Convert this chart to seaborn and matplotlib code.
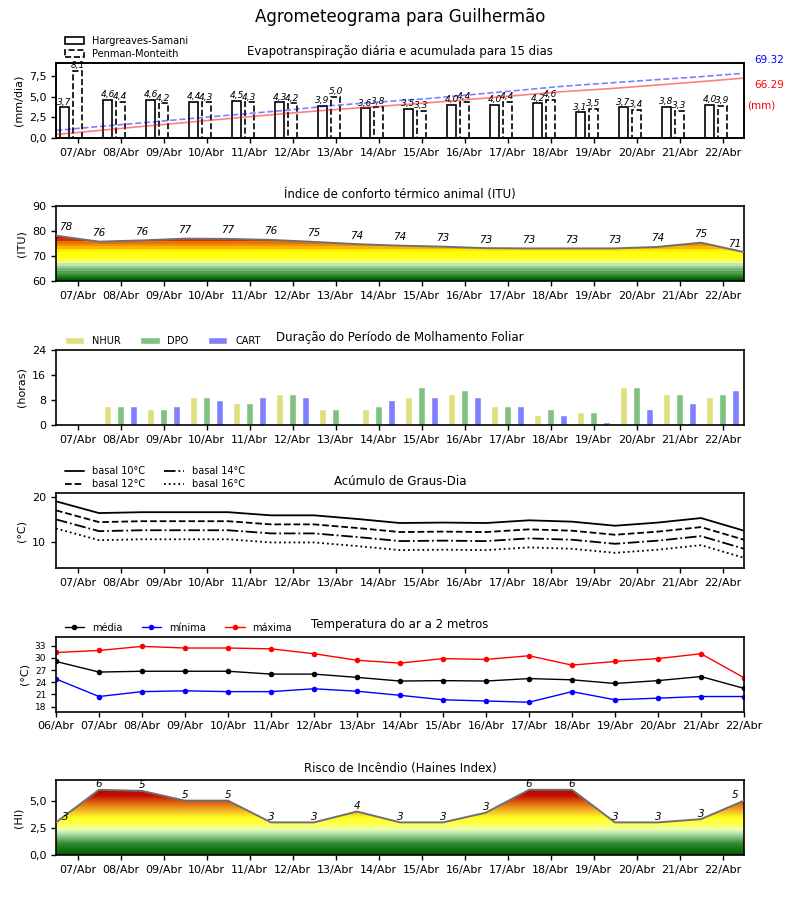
import numpy as np
import matplotlib
matplotlib.use("Agg")
import matplotlib.pyplot as plt
import seaborn as sns
from matplotlib.colors import LinearSegmentedColormap
from matplotlib.ticker import FuncFormatter

sns.set_style("ticks")
plt.rcParams["font.family"] = ["DejaVu Sans"]
plt.rcParams.update({
    "axes.edgecolor": "black", "axes.linewidth": 1.2,
    "xtick.color": "black", "ytick.color": "black",
    "xtick.labelsize": 8, "ytick.labelsize": 8, "axes.labelsize": 8,
    "xtick.major.size": 3.5, "ytick.major.size": 3.5,
    "xtick.major.width": 1.0, "ytick.major.width": 1.0,
    "text.color": "black", "axes.labelcolor": "black",
})

# ---------------- data ----------------
days = ["06/Abr", "07/Abr", "08/Abr", "09/Abr", "10/Abr", "11/Abr", "12/Abr", "13/Abr",
        "14/Abr", "15/Abr", "16/Abr", "17/Abr", "18/Abr", "19/Abr", "20/Abr", "21/Abr", "22/Abr"]

et_hs = [3.7, 4.6, 4.6, 4.4, 4.5, 4.3, 3.9, 3.6, 3.5, 4.0, 4.0, 4.2, 3.1, 3.7, 3.8, 4.0]
et_pm = [8.1, 4.4, 4.2, 4.3, 4.3, 4.2, 5.0, 3.8, 3.3, 4.4, 4.4, 4.6, 3.5, 3.4, 3.3, 3.9]
et_pm_total = "69.32"
et_hs_total = "66.29"

itu = [78.3, 75.9, 76.4, 77.1, 77.0, 76.6, 75.8, 74.9, 74.3, 73.9, 73.3, 73.2, 73.2, 73.2, 73.8, 75.5, 71.7]
itu_labels = ["78", "76", "76", "77", "77", "76", "75", "74", "74", "73", "73", "73", "73", "73", "74", "75", "71"]

nhur = [0, 6, 5, 9, 7, 10, 5, 5, 9, 10, 6, 3, 4, 12, 10, 9]
dpo = [0, 6, 5, 9, 7, 10, 5, 6, 12, 11, 6, 5, 4, 12, 10, 10]
cart = [0, 6, 6, 8, 9, 9, 0, 8, 9, 9, 6, 3, 1, 5, 7, 11]

gd10 = [19.1, 16.5, 16.7, 16.7, 16.7, 16.0, 16.0, 15.2, 14.3, 14.4, 14.3, 14.9, 14.6, 13.7, 14.4, 15.4, 12.6]
gd12 = [17.1, 14.5, 14.7, 14.7, 14.7, 14.0, 14.0, 13.2, 12.3, 12.4, 12.3, 12.9, 12.6, 11.7, 12.4, 13.4, 10.6]
gd14 = [15.1, 12.5, 12.7, 12.7, 12.7, 12.0, 12.0, 11.2, 10.3, 10.4, 10.3, 10.9, 10.6, 9.7, 10.4, 11.4, 8.6]
gd16 = [13.1, 10.5, 10.7, 10.7, 10.7, 10.0, 10.0, 9.2, 8.3, 8.4, 8.3, 8.9, 8.6, 7.7, 8.4, 9.4, 6.6]

tmean = [29.1, 26.5, 26.7, 26.7, 26.7, 26.0, 26.0, 25.2, 24.3, 24.4, 24.3, 24.9, 24.6, 23.7, 24.4, 25.4, 22.5]
tmin = [24.8, 20.5, 21.7, 21.9, 21.7, 21.7, 22.4, 21.8, 20.8, 19.7, 19.4, 19.1, 21.7, 19.7, 20.1, 20.5, 20.5]
tmax = [31.3, 31.8, 32.8, 32.4, 32.4, 32.2, 31.0, 29.4, 28.7, 29.8, 29.6, 30.5, 28.2, 29.1, 29.8, 31.0, 25.1]

haines = [3.0, 6.0, 5.9, 5.0, 5.0, 3.0, 3.0, 4.0, 3.0, 3.0, 3.9, 6.0, 6.0, 3.0, 3.0, 3.3, 5.0]
haines_labels = ["3", "6", "5", "5", "5", "3", "3", "4", "3", "3", "3", "6", "6", "3", "3", "3", "5"]

# ---------------- helpers ----------------
comma = FuncFormatter(lambda v, p: f"{v:.1f}".replace(".", ","))


def make_cmap(stops, lo, hi, n=256):
    return LinearSegmentedColormap.from_list(
        "c", [((v - lo) / (hi - lo), c) for v, c in stops], N=n)


def gradient_fill(ax, x, y, lo, hi, cmap, interp):
    poly = ax.fill_between(x, y, lo, facecolor="none", edgecolor="none")
    grad = np.linspace(lo, hi, 400).reshape(-1, 1)
    im = ax.imshow(grad, extent=[x[0], x[-1], lo, hi], origin="lower", aspect="auto",
                   cmap=cmap, vmin=lo, vmax=hi, zorder=1, interpolation=interp)
    im.set_clip_path(poly.get_paths()[0], transform=ax.transData)


def day_axis(ax):
    ax.set_xlim(0, 16)
    ax.set_xticks(np.arange(16) + 0.5)
    ax.set_xticklabels(days[1:])


fig, axes = plt.subplots(6, 1, figsize=(8, 9), dpi=100)
fig.subplots_adjust(left=0.07, right=0.93, top=1 - 63 / 900, bottom=1 - 855 / 900, hspace=0.912)
fig.suptitle("Agrometeograma para Guilhermão", fontsize=12, y=1 - 17 / 900, va="center")

tfs = 8.5
lfs = 7

# ---------------- panel 1 : ET ----------------
ax = axes[0]
xc = np.arange(16) + 0.5
ax.bar(xc - 0.3, et_hs, width=0.2, facecolor="white", edgecolor="black", linewidth=1.2,
       label="Hargreaves-Samani", zorder=2)
ax.bar(xc, et_pm, width=0.2, facecolor="white", edgecolor="black", linewidth=1.2,
       linestyle="--", label="Penman-Monteith", zorder=2)
for x, v in zip(xc - 0.3, et_hs):
    ax.annotate(f"{v:.1f}".replace(".", ","), (x, v), xytext=(0, 0.5), textcoords="offset points",
                ha="center", va="bottom", fontsize=6.5, style="italic")
for x, v in zip(xc, et_pm):
    ax.annotate(f"{v:.1f}".replace(".", ","), (x, v), xytext=(0, 0.5), textcoords="offset points",
                ha="center", va="bottom", fontsize=6.5, style="italic")
day_axis(ax)
ax.set_ylim(0, max(et_pm) * 1.12)
ax.set_yticks([0, 2.5, 5, 7.5])
ax.yaxis.set_major_formatter(comma)
ax.set_ylabel("(mm/dia)")
ax.set_title("Evapotranspiração diária e acumulada para 15 dias", fontsize=tfs)
ax.legend(loc="lower left", bbox_to_anchor=(0.007, 1.0), frameon=False, fontsize=lfs,
          borderaxespad=0, labelspacing=0.35)
tw = ax.twinx()
xcum = np.linspace(0, 16, len(et_hs))
sns.lineplot(x=xcum, y=np.cumsum(et_hs), ax=tw, color="red", alpha=0.5, linewidth=1.2)
sns.lineplot(x=xcum, y=np.cumsum(et_pm), ax=tw, color="blue", alpha=0.5, linewidth=1.2,
             linestyle="--")
tw.set_ylim(0, 80)
tw.set_yticks([])
tw.set_ylabel("")
tw.set_xlim(0, 16)
ax.text(1.036, 1.04, et_pm_total, color="blue", transform=ax.transAxes, fontsize=7.5,
        ha="center", va="center")
ax.text(1.036, 0.707, et_hs_total, color="red", transform=ax.transAxes, fontsize=7.5,
        ha="center", va="center")
ax.text(1.025, 0.44, "(mm)", color="red", transform=ax.transAxes, fontsize=7.5,
        ha="center", va="center")

# ---------------- panel 2 : ITU ----------------
ax = axes[1]
x17 = np.arange(17)
itu_stops = [(60, "#006400"), (61, "#1a7a1a"), (63, "#4c9e4c"), (65, "#90c890"),
             (66.5, "#d0f0b0"), (67.5, "#f0ffa0"), (68.5, "#ffff20"), (72, "#ffff00"),
             (73, "#ffc800"), (74, "#f5a000"), (75.5, "#e87800"), (76.5, "#d83000"),
             (77.5, "#cc0000"), (90, "#c00000")]
gradient_fill(ax, x17, itu, 60, 90, make_cmap(itu_stops, 60, 90, n=30), "nearest")
sns.lineplot(x=x17, y=itu, ax=ax, color="#707070", linewidth=1.4, zorder=3)
for i, (v, s) in enumerate(zip(itu, itu_labels)):
    ha = "left" if i == 0 else ("right" if i == 16 else "center")
    dx = 2 if i == 0 else (-2 if i == 16 else 0)
    ax.annotate(s, (i, v), xytext=(dx, 2.5), textcoords="offset points", ha=ha, va="bottom",
                fontsize=7.5, style="italic")
day_axis(ax)
ax.set_ylim(60, 90)
ax.set_yticks([60, 70, 80, 90])
ax.set_ylabel("(ITU)")
ax.set_title("Índice de conforto térmico animal (ITU)", fontsize=tfs)

# ---------------- panel 3 : leaf wetness ----------------
ax = axes[2]
ax.bar(xc - 0.3, nhur, width=0.15, color="#dfdf80", label="NHUR")
ax.bar(xc, dpo, width=0.15, color="#80c080", label="DPO")
ax.bar(xc + 0.3, cart, width=0.15, color="#8080ff", label="CART")
day_axis(ax)
ax.set_ylim(0, 24)
ax.set_yticks([0, 8, 16, 24])
ax.set_ylabel("(horas)")
ax.set_title("Duração do Período de Molhamento Foliar", fontsize=tfs)
ax.legend(loc="lower left", bbox_to_anchor=(0.007, 1.0), frameon=False, fontsize=lfs,
          ncol=3, borderaxespad=0)

# ---------------- panel 4 : degree days ----------------
ax = axes[3]
sns.lineplot(x=x17, y=gd10, ax=ax, color="black", linewidth=1.3, linestyle="-", label="basal 10°C")
sns.lineplot(x=x17, y=gd12, ax=ax, color="black", linewidth=1.3, linestyle="--", label="basal 12°C")
sns.lineplot(x=x17, y=gd14, ax=ax, color="black", linewidth=1.3, linestyle="-.", label="basal 14°C")
sns.lineplot(x=x17, y=gd16, ax=ax, color="black", linewidth=1.3, linestyle=":", label="basal 16°C")
day_axis(ax)
ax.set_ylim(4.3, 20.9)
ax.set_yticks([10, 20])
ax.set_ylabel("(°C)")
ax.set_title("Acúmulo de Graus-Dia", fontsize=tfs)
ax.legend(loc="lower left", bbox_to_anchor=(0.007, 1.0), frameon=False, fontsize=lfs,
          ncol=2, borderaxespad=0, labelspacing=0.35)

# ---------------- panel 5 : temperature ----------------
ax = axes[4]
sns.lineplot(x=x17, y=tmean, ax=ax, color="black", marker="o", markersize=4, linewidth=1,
             markeredgewidth=0, label="média")
sns.lineplot(x=x17, y=tmin, ax=ax, color="blue", marker="o", markersize=4, linewidth=1,
             markeredgewidth=0, label="mínima")
sns.lineplot(x=x17, y=tmax, ax=ax, color="red", marker="o", markersize=4, linewidth=1,
             markeredgewidth=0, label="máxima")
ax.set_xlim(0, 16)
ax.set_xticks(x17)
ax.set_xticklabels(days)
ax.set_ylim(16.8, 35.2)
ax.set_yticks([18, 21, 24, 27, 30, 33])
ax.tick_params(axis="y", labelsize=6.5)
ax.set_ylabel("(°C)")
ax.set_title("Temperatura do ar a 2 metros", fontsize=tfs)
ax.legend(loc="lower left", bbox_to_anchor=(0.007, 1.0), frameon=False, fontsize=lfs,
          ncol=3, borderaxespad=0)

# ---------------- panel 6 : Haines ----------------
ax = axes[5]
hi_stops = [(0, "#005a00"), (1, "#2e8b2e"), (1.8, "#9fd49f"), (2.3, "#eaffb5"),
            (2.8, "#ffff50"), (3.4, "#ffff20"), (4.0, "#f5b828"), (4.8, "#dd6010"),
            (5.4, "#c41000"), (6.0, "#b40000"), (6.9, "#b40000")]
gradient_fill(ax, x17, haines, 0, 6.9, make_cmap(hi_stops, 0, 6.9), "bilinear")
sns.lineplot(x=x17, y=haines, ax=ax, color="#707070", linewidth=1.4, zorder=3)
for i, (v, s) in enumerate(zip(haines, haines_labels)):
    ha = "left" if i == 0 else ("right" if i == 16 else "center")
    dx = 4 if i == 0 else (-4 if i == 16 else 0)
    ax.annotate(s, (i, v), xytext=(dx, 0.3), textcoords="offset points", ha=ha, va="bottom",
                fontsize=7.5, style="italic")
day_axis(ax)
ax.set_ylim(0, 6.9)
ax.set_yticks([0, 2.5, 5])
ax.yaxis.set_major_formatter(comma)
ax.set_ylabel("(HI)")
ax.set_title("Risco de Incêndio (Haines Index)", fontsize=tfs)

for a in axes:
    a.tick_params(axis="both", which="major", direction="out")

fig.savefig("out.png", dpi=100)
